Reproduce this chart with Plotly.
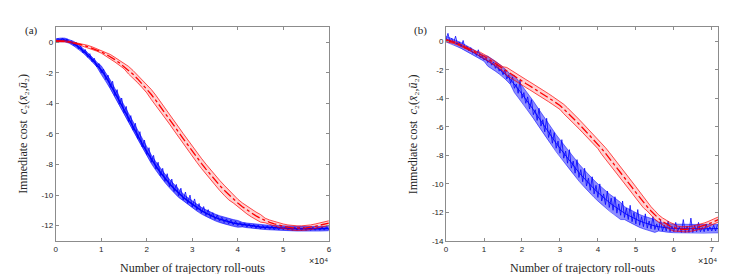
import plotly.graph_objects as go

# ---------------- data ----------------
# panel (a): x grid in roll-outs (step 1000)
rollouts_a = list(range(0, 60001, 1000))
blue_a_mean = [0.10,0.15,0.15,0.05,-0.10,-0.30,-0.55,-0.82,-1.12,-1.45,
               -1.82,-2.25,-2.75,-3.30,-3.85,-4.42,-5.00,-5.55,-6.10,-6.65,
               -7.15,-7.65,-8.10,-8.52,-8.90,-9.25,-9.57,-9.87,-10.14,-10.38,
               -10.60,-10.82,-11.02,-11.18,-11.33,-11.46,-11.57,-11.67,-11.75,-11.82,
               -11.88,-11.93,-11.98,-12.02,-12.05,-12.08,-12.10,-12.12,-12.14,-12.16,
               -12.17,-12.18,-12.19,-12.20,-12.20,-12.21,-12.21,-12.20,-12.20,-12.19,-12.18]
blue_a_std = [0.12,0.12,0.12,0.12,0.15,0.15,0.15,0.15,0.15,0.15,
              0.28,0.28,0.28,0.28,0.28,0.28,0.28,0.28,0.28,0.28,
              0.28,0.28,0.28,0.28,0.28,0.28,0.28,0.28,0.22,0.22,
              0.22,0.22,0.22,0.22,0.22,0.22,0.22,0.22,0.22,0.22,
              0.22,0.15,0.15,0.15,0.15,0.15,0.15,0.15,0.15,0.15,
              0.15,0.15,0.15,0.15,0.15,0.15,0.15,0.15,0.15,0.15,0.15]
# noisy single run of the blue method in (a), step 500 roll-outs
rollouts_a_run = list(range(0, 60001, 500))
blue_a_run = [0.05,0.25, 0.08,0.28, 0.05,0.22, -0.05,0.10, -0.22,0.00,
              -0.45,-0.25, -0.70,-0.48, -0.98,-0.75, -1.28,-1.05, -1.62,-1.40,
              -2.00,-1.75, -2.45,-2.15, -2.95,-2.55, -3.50,-3.10, -4.05,-3.65,
              -4.62,-4.20, -5.20,-4.80, -5.75,-5.30, -6.30,-5.85, -6.85,-6.40,
              -7.35,-6.90, -7.85,-7.40, -8.30,-7.85, -8.72,-8.25, -9.10,-8.60,
              -9.45,-8.95, -9.77,-9.30, -10.05,-9.55, -10.32,-9.80, -10.55,-10.00,
              -10.78,-10.25, -10.98,-10.55, -11.18,-10.75, -11.33,-10.95, -11.47,-11.15,
              -11.60,-11.30, -11.70,-11.45, -11.80,-11.55, -11.88,-11.62, -11.95,-11.70,
              -12.00,-11.78, -12.05,-11.82, -12.10,-11.88, -12.13,-11.92, -12.17,-11.95,
              -12.20,-11.98, -12.22,-12.00, -12.24,-12.02, -12.26,-12.04, -12.27,-12.05,
              -12.28,-12.07, -12.29,-12.08, -12.30,-12.08, -12.30,-12.09, -12.31,-12.09,
              -12.31,-12.09, -12.31,-12.09, -12.30,-12.08, -12.30,-12.08, -12.29,-12.07,
              -12.28]
red_a_mean = [0.08,0.08,0.06,0.02,-0.04,-0.11,-0.19,-0.28,-0.38,-0.50,
              -0.63,-0.78,-0.95,-1.14,-1.35,-1.58,-1.83,-2.10,-2.40,-2.72,
              -3.06,-3.42,-3.80,-4.20,-4.60,-5.02,-5.45,-5.88,-6.30,-6.72,
              -7.13,-7.53,-7.92,-8.30,-8.67,-9.02,-9.36,-9.68,-9.98,-10.26,
              -10.52,-10.76,-10.98,-11.18,-11.36,-11.52,-11.66,-11.78,-11.88,-11.97,
              -12.04,-12.10,-12.14,-12.16,-12.16,-12.14,-12.10,-12.04,-11.97,-11.90,-11.83]
red_a_std = [0.04,0.04,0.04,0.04,0.04,0.04,0.08,0.08,0.08,0.08,
             0.08,0.15,0.15,0.15,0.15,0.15,0.25,0.25,0.25,0.25,
             0.25,0.33,0.33,0.33,0.33,0.33,0.33,0.33,0.33,0.33,
             0.33,0.33,0.33,0.33,0.33,0.33,0.33,0.33,0.33,0.25,
             0.25,0.25,0.25,0.25,0.25,0.25,0.15,0.15,0.15,0.15,
             0.15,0.15,0.15,0.15,0.15,0.15,0.15,0.15,0.15,0.15,0.15]

# panel (b): x grid in roll-outs (step 1000, last point at axis end)
rollouts_b = list(range(0, 71001, 1000)) + [71700]
blue_b_mean = [0.15,0.05,-0.05,-0.15,-0.30,-0.45,-0.60,-0.75,-0.90,-1.05,
               -1.20,-1.40,-1.55,-1.75,-1.95,-2.15,-2.40,-2.70,-3.00,-3.35,
               -3.70,-4.05,-4.40,-4.80,-5.20,-5.60,-6.00,-6.40,-6.80,-7.15,
               -7.50,-7.85,-8.20,-8.55,-8.90,-9.20,-9.50,-9.80,-10.10,-10.35,
               -10.60,-10.85,-11.10,-11.30,-11.50,-11.70,-11.90,-12.05,-12.20,-12.35,
               -12.50,-12.60,-12.70,-12.80,-12.88,-12.95,-13.00,-13.05,-13.08,-13.10,
               -13.12,-13.13,-13.14,-13.15,-13.15,-13.15,-13.15,-13.15,-13.15,-13.14,
               -13.13,-13.13,-13.13]
blue_b_std = [0.20,0.20,0.20,0.20,0.20,0.20,0.20,0.20,0.20,0.20,
              0.20,0.35,0.35,0.35,0.35,0.35,0.35,0.35,0.60,0.60,
              0.60,0.60,0.60,0.60,0.60,0.60,0.60,0.60,0.60,0.60,
              0.60,0.60,0.60,0.60,0.60,0.60,0.60,0.60,0.60,0.60,
              0.60,0.60,0.60,0.60,0.60,0.60,0.60,0.45,0.45,0.45,
              0.45,0.45,0.45,0.45,0.45,0.45,0.30,0.30,0.30,0.30,
              0.30,0.30,0.30,0.30,0.30,0.30,0.30,0.30,0.30,0.30,
              0.30,0.30,0.30]
red_b_mean = [0.05,0.00,-0.08,-0.18,-0.30,-0.42,-0.55,-0.68,-0.80,-0.92,
              -1.05,-1.22,-1.40,-1.58,-1.76,-1.94,-2.12,-2.30,-2.47,-2.64,
              -2.80,-2.96,-3.12,-3.28,-3.44,-3.60,-3.78,-3.96,-4.14,-4.32,
              -4.50,-4.75,-5.00,-5.25,-5.50,-5.80,-6.08,-6.36,-6.64,-6.92,
              -7.20,-7.53,-7.86,-8.19,-8.52,-8.85,-9.20,-9.55,-9.90,-10.25,
              -10.60,-10.95,-11.28,-11.60,-11.90,-12.18,-12.42,-12.63,-12.80,-12.95,
              -13.06,-13.14,-13.18,-13.19,-13.17,-13.13,-13.07,-13.00,-12.92,-12.82,
              -12.72,-12.60,-12.50]
red_b_std = [0.08,0.08,0.08,0.08,0.08,0.08,0.08,0.08,0.08,0.15,
             0.15,0.15,0.15,0.15,0.15,0.15,0.28,0.28,0.28,0.28,
             0.28,0.28,0.28,0.28,0.28,0.28,0.28,0.28,0.28,0.28,
             0.28,0.33,0.33,0.33,0.33,0.33,0.33,0.33,0.33,0.33,
             0.33,0.40,0.40,0.40,0.40,0.40,0.40,0.40,0.40,0.40,
             0.40,0.40,0.40,0.30,0.30,0.30,0.25,0.25,0.25,0.25,
             0.25,0.18,0.18,0.18,0.18,0.18,0.18,0.18,0.18,0.18,
             0.18,0.18,0.18]
# noisy single run of the blue method in (b), step 500 roll-outs
rollouts_b_run = list(range(0, 71501, 500))
blue_b_run = [0.10,0.55, 0.00,0.20, -0.12,0.35, -0.22,-0.05, -0.38,0.05,
              -0.52,-0.35, -0.68,-0.45, -0.85,-0.70, -1.00,-0.60, -1.15,-1.00,
              -1.32,-1.15, -1.50,-1.30, -1.68,-1.45, -1.90,-1.60, -2.10,-1.95,
              -2.35,-2.00, -2.65,-2.35, -2.95,-2.50, -3.30,-3.00, -3.65,-2.70,
              -4.00,-3.60, -4.35,-3.90, -4.75,-4.10, -5.15,-4.80, -5.55,-4.70,
              -5.95,-5.50, -6.35,-5.40, -6.75,-6.20, -7.15,-6.40, -7.50,-7.00,
              -7.85,-6.90, -8.20,-7.70, -8.55,-7.60, -8.90,-8.40, -9.25,-8.30,
              -9.55,-9.00, -9.85,-8.90, -10.15,-9.60, -10.45,-9.50, -10.70,-10.10,
              -10.95,-10.00, -11.20,-10.70, -11.45,-10.50, -11.65,-11.00, -11.85,-10.90,
              -12.05,-11.40, -12.20,-11.20, -12.35,-11.70, -12.50,-11.50, -12.65,-12.00,
              -12.80,-11.80, -12.90,-12.30, -13.00,-12.10, -13.10,-12.60, -13.15,-12.30,
              -13.20,-12.80, -13.25,-12.50, -13.30,-12.90, -13.30,-12.60, -13.35,-12.95,
              -13.35,-12.70, -13.35,-13.00, -13.40,-12.50, -13.40,-12.95, -13.40,-12.40,
              -13.40,-12.90, -13.35,-12.70, -13.35,-13.05, -13.35,-12.80, -13.30,-13.00,
              -13.30,-12.90, -13.30,-12.85]

xtick_vals_a = [0, 10000, 20000, 30000, 40000, 50000, 60000]
xtick_text_a = ["0", "1", "2", "3", "4", "5", "6"]
xtick_vals_b = [0, 10000, 20000, 30000, 40000, 50000, 60000, 70000]
xtick_text_b = ["0", "1", "2", "3", "4", "5", "6", "7"]
ytick_vals_a = [-12, -10, -8, -6, -4, -2, 0]
ytick_text_a = ["-12", "-10", "-8", "-6", "-4", "-2", "0"]
ytick_vals_b = [-14, -12, -10, -8, -6, -4, -2, 0]
ytick_text_b = ["-14", "-12", "-10", "-8", "-6", "-4", "-2", "0"]

# ---------------- figure ----------------
W, H = 747, 274
fig = go.Figure()

BLUE = "rgb(0,0,255)"
RED = "rgb(255,0,0)"


def band(x, mean, std, xa, ya, fill, edge, edge_w):
    lo = [m - s for m, s in zip(mean, std)]
    hi = [m + s for m, s in zip(mean, std)]
    fig.add_trace(go.Scatter(x=x + x[::-1], y=hi + lo[::-1], fill="toself",
                             fillcolor=fill, line=dict(width=0), mode="lines",
                             hoverinfo="skip", showlegend=False, xaxis=xa, yaxis=ya))
    for arr in (lo, hi):
        fig.add_trace(go.Scatter(x=x, y=arr, mode="lines",
                                 line=dict(color=edge, width=edge_w),
                                 showlegend=False, xaxis=xa, yaxis=ya))


def line(x, y, xa, ya, color, width, dash="solid"):
    fig.add_trace(go.Scatter(x=x, y=y, mode="lines",
                             line=dict(color=color, width=width, dash=dash),
                             showlegend=False, xaxis=xa, yaxis=ya))


# panel (a)
band(rollouts_a, blue_a_mean, blue_a_std, "x", "y", "rgba(0,0,255,0.6)", "rgba(0,0,255,0.8)", 0.7)
line(rollouts_a_run, blue_a_run, "x", "y", BLUE, 0.8)
line(rollouts_a, blue_a_mean, "x", "y", BLUE, 1.5)
band(rollouts_a, red_a_mean, red_a_std, "x", "y", "rgba(255,0,0,0.18)", RED, 0.7)
line(rollouts_a, red_a_mean, "x", "y", RED, 1.3, "dashdot")

# panel (b)
band(rollouts_b, blue_b_mean, blue_b_std, "x2", "y2", "rgba(0,0,255,0.45)", "rgba(0,0,255,0.75)", 0.7)
line(rollouts_b, blue_b_mean, "x2", "y2", BLUE, 0.9)
line(rollouts_b_run, blue_b_run, "x2", "y2", BLUE, 0.8)
band(rollouts_b, red_b_mean, red_b_std, "x2", "y2", "rgba(255,0,0,0.18)", RED, 0.7)
line(rollouts_b, red_b_mean, "x2", "y2", RED, 1.3, "dashdot")

ax_common = dict(showline=True, linecolor="#8c8c8c", linewidth=1, mirror="allticks",
                 ticks="inside", ticklen=3, tickcolor="#8c8c8c", showgrid=False,
                 zeroline=False, tickfont=dict(family="Liberation Sans", size=8, color="#262626"))

ydom = [1 - 237.3 / H, 1 - 19.3 / H]
fig.update_layout(
    width=W, height=H, margin=dict(l=0, r=0, t=0, b=0),
    paper_bgcolor="white", plot_bgcolor="white",
    xaxis=dict(domain=[46 / W, 321 / W], range=[0, 60000], tickvals=xtick_vals_a,
               ticktext=xtick_text_a, anchor="y", **ax_common),
    yaxis=dict(domain=ydom, range=[-13, 1], tickvals=ytick_vals_a, ticktext=ytick_text_a,
               anchor="x", **ax_common),
    xaxis2=dict(domain=[439 / W, 713 / W], range=[0, 71700], tickvals=xtick_vals_b,
                ticktext=xtick_text_b, anchor="y2", **ax_common),
    yaxis2=dict(domain=ydom, range=[-14, 1], tickvals=ytick_vals_b, ticktext=ytick_text_b,
                anchor="x2", **ax_common),
)

serif = "Liberation Serif"
ytitle = "Immediate cost  <i>c</i>\u2082(<i>x\u0304</i>\u2082,<i>u\u0304</i>\u2082)"
ann = []
for (px0, px1, lab_x, lab) in [(46, 321, 22, "(a)"), (439, 713, 413, "(b)")]:
    cx = (px0 + px1) / 2
    ann.append(dict(x=cx / W, y=1 - 265 / H, xref="paper", yref="paper",
                    text="Number of trajectory roll-outs", showarrow=False,
                    font=dict(family=serif, size=12, color="#262626"),
                    xanchor="center", yanchor="middle"))
    ann.append(dict(x=(px1 + 1) / W, y=1 - 258 / H, xref="paper", yref="paper",
                    text="\u00d710\u2074", showarrow=False,
                    font=dict(family="Liberation Sans", size=9, color="#262626"),
                    xanchor="right", yanchor="middle"))
    ann.append(dict(x=(px0 - 33) / W, y=1 - 128.3 / H, xref="paper", yref="paper",
                    text=ytitle, textangle=-90, showarrow=False,
                    font=dict(family=serif, size=12, color="#262626"),
                    xanchor="center", yanchor="middle"))
    ann.append(dict(x=lab_x / W, y=1 - 23 / H, xref="paper", yref="paper",
                    text=lab, showarrow=False,
                    font=dict(family=serif, size=11, color="#262626"),
                    xanchor="center", yanchor="middle"))
fig.update_layout(annotations=ann)

fig.write_html("out.html")
